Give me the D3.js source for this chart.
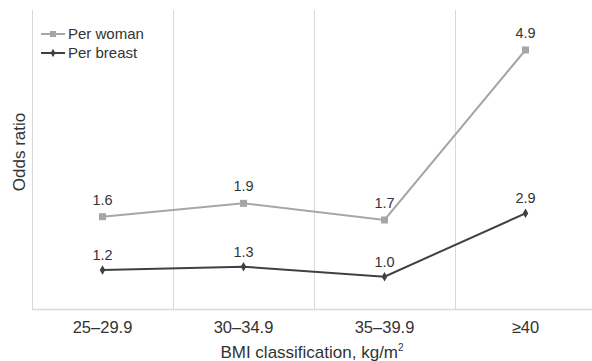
<!DOCTYPE html>
<html>
<head>
<meta charset="utf-8">
<script src="https://cdn.jsdelivr.net/npm/d3@7/dist/d3.min.js"></script>
<style>
html,body{margin:0;padding:0;background:#fff;}
svg{display:block;font-family:"Liberation Sans",Arial,sans-serif;}
</style>
</head>
<body>
<svg id="chart" width="592" height="361"></svg>
<script>
const categories = ["25–29.9", "30–34.9", "35–39.9", "≥40"];
const perWoman = [1.6, 1.9, 1.7, 4.9];
const perBreast = [1.2, 1.3, 1.0, 2.9];
const seriesNames = ["Per woman", "Per breast"];
const yDomain = [0, 9];

const W = 592, H = 361;
const margin = {left: 32, top: 10, right: -4, bottom: 51};
const svg = d3.select("#chart");

const x = d3.scaleBand().domain(categories).range([margin.left, W - margin.right]).paddingInner(0).paddingOuter(0);
const y = d3.scaleLinear().domain(yDomain).range([H - margin.bottom, margin.top]);

// stacked line data
const rows = categories.map((c, i) => ({cat: c, breast: perBreast[i], woman: perWoman[i]}));
const stack = d3.stack().keys(["breast", "woman"]);
const stacked = stack(rows);

const grid = "#d9d9d9";
// vertical gridlines at band boundaries
const bounds = categories.slice(1).map(c => x(c));
svg.append("g").selectAll("line").data(bounds).join("line")
  .attr("x1", d => Math.round(d) + 0.5).attr("x2", d => Math.round(d) + 0.5)
  .attr("y1", y(yDomain[1])).attr("y2", y(0))
  .attr("stroke", grid).attr("stroke-width", 1);

// left axis line
svg.append("line").attr("x1", margin.left + 0.5).attr("x2", margin.left + 0.5)
  .attr("y1", y(yDomain[1])).attr("y2", y(0)).attr("stroke", grid);

// bottom axis
const xAxis = d3.axisBottom(x).tickSize(0).tickPadding(12);
const gx = svg.append("g").attr("transform", `translate(0,${y(0) - 0.5})`).call(xAxis);
gx.select(".domain").attr("stroke", grid).attr("stroke-width", 1.5).attr("d", `M${margin.left},0H${W}`);
gx.selectAll("text").attr("font-size", 16.5).attr("fill", "#333").attr("font-family", "Liberation Sans, Arial, sans-serif");

const colors = {woman: "#a6a6a6", breast: "#404040"};
const cx = c => x(c) + x.bandwidth() / 2;

const line = d3.line().x(d => cx(d.data.cat)).y(d => y(d[1]));

const layers = [
  {key: "woman", data: stacked[1], vals: perWoman, off: 12},
  {key: "breast", data: stacked[0], vals: perBreast, off: 10}
];

layers.forEach(L => {
  svg.append("path").datum(L.data).attr("d", line)
    .attr("fill", "none").attr("stroke", colors[L.key]).attr("stroke-width", 2);
});

// markers
svg.append("g").selectAll("rect").data(stacked[1]).join("rect")
  .attr("x", d => cx(d.data.cat) - 3.5).attr("y", d => y(d[1]) - 3.5)
  .attr("width", 7).attr("height", 7).attr("fill", colors.woman);
svg.append("g").selectAll("path").data(stacked[0]).join("path")
  .attr("transform", d => `translate(${cx(d.data.cat)},${y(d[1])})`)
  .attr("d", d3.symbol().type(d3.symbolDiamond).size(26))
  .attr("fill", colors.breast);

// data labels
layers.forEach(L => {
  svg.append("g").selectAll("text").data(L.data).join("text")
    .attr("x", d => cx(d.data.cat)).attr("y", d => y(d[1]) - L.off)
    .attr("text-anchor", "middle").attr("font-size", 14.5).attr("fill", "#333")
    .text((d, i) => L.vals[i].toFixed(1));
});

// legend
const legend = [
  {name: seriesNames[0], key: "woman", y: 34},
  {name: seriesNames[1], key: "breast", y: 53}
];
const lg = svg.append("g");
legend.forEach(l => {
  lg.append("line").attr("x1", 41).attr("x2", 65).attr("y1", l.y).attr("y2", l.y)
    .attr("stroke", colors[l.key]).attr("stroke-width", 2);
  if (l.key === "woman") {
    lg.append("rect").attr("x", 50).attr("y", l.y - 3).attr("width", 6).attr("height", 6).attr("fill", colors.woman);
  } else {
    lg.append("path").attr("transform", `translate(53,${l.y})`).attr("d", d3.symbol().type(d3.symbolDiamond).size(20)).attr("fill", colors.breast);
  }
  lg.append("text").attr("x", 68).attr("y", l.y + 5).attr("font-size", 15).attr("fill", "#333").text(l.name);
});

// axis titles
const xt = svg.append("text").attr("x", 312).attr("y", 357.5).attr("text-anchor", "middle")
  .attr("font-size", 17).attr("fill", "#333");
xt.append("tspan").text("BMI classification, kg/m");
xt.append("tspan").attr("font-size", 10).attr("dy", -7).text("2");

svg.append("text").attr("transform", `translate(25,152) rotate(-90)`)
  .attr("text-anchor", "middle").attr("font-size", 17).attr("fill", "#333").text("Odds ratio");
</script>
</body>
</html>
